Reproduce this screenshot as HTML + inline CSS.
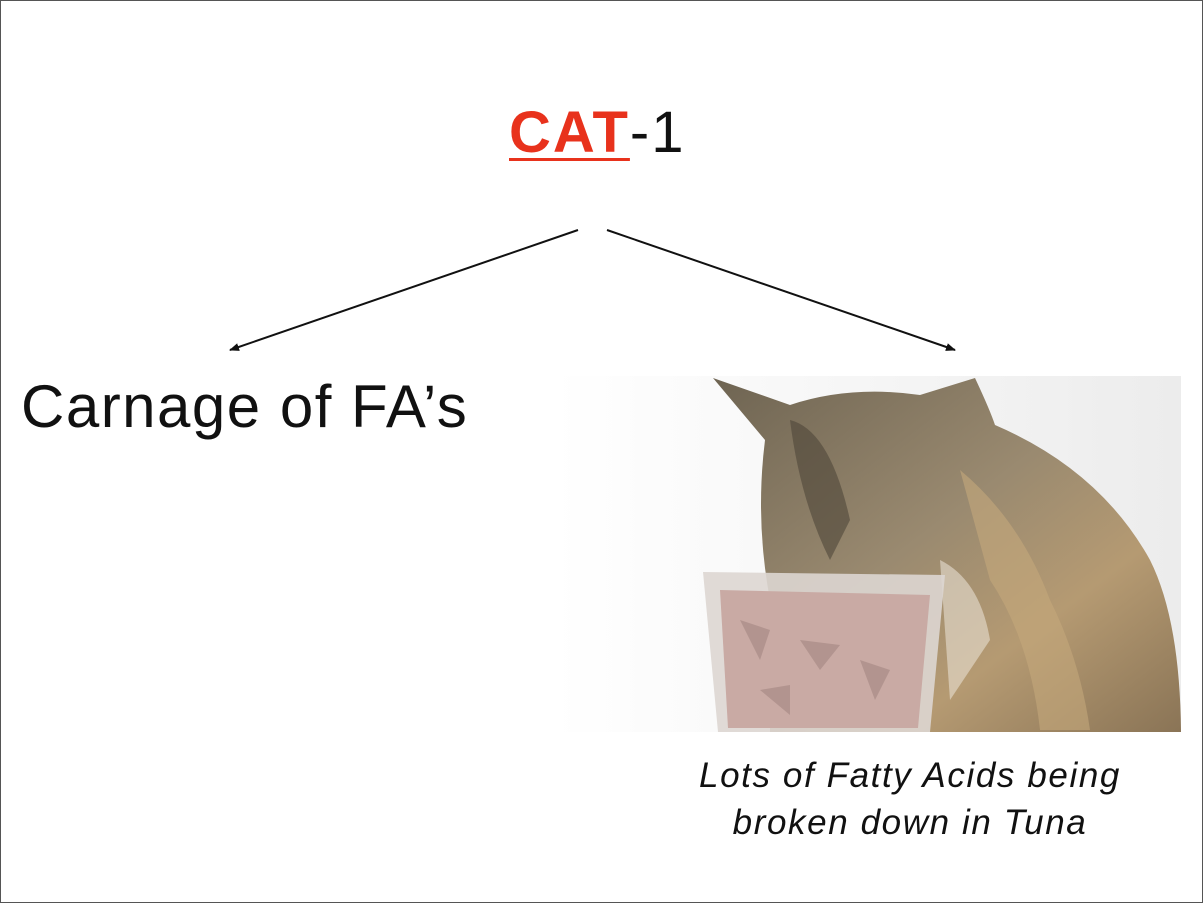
<!DOCTYPE html>
<html><head><meta charset="utf-8"><style>
html,body{margin:0;padding:0;background:#fff}
body{width:1203px;height:903px;position:relative;overflow:hidden;font-family:"Liberation Sans",sans-serif}
.frame{position:absolute;left:0;top:0;width:1201px;height:901px;border:1px solid #555}
.t{position:absolute;white-space:nowrap;color:#111}
</style></head><body>
<div class="t" style="left:509px;top:100px;font-size:58px;line-height:66px;letter-spacing:2px"><span style="color:#e8321c;font-weight:bold;text-decoration:underline;text-decoration-thickness:3px;text-underline-offset:6px">CAT</span>-1</div>
<div class="t" style="left:21px;top:371px;font-size:60px;line-height:72px;letter-spacing:1.5px">Carnage of FA’s</div>
<svg width="1203" height="903" style="position:absolute;left:0;top:0">
<defs><marker id="a" markerWidth="10" markerHeight="8" refX="9" refY="4" orient="auto" markerUnits="userSpaceOnUse"><path d="M0,0L10,4L0,8z" fill="#111"/></marker>
<linearGradient id="bg" x1="0" x2="1"><stop offset="0" stop-color="#fff"/><stop offset="1" stop-color="#ececec"/></linearGradient>
<linearGradient id="fur" x1="0" y1="0" x2="1" y2="1"><stop offset="0" stop-color="#6e6452"/><stop offset="0.45" stop-color="#9a8a70"/><stop offset="0.7" stop-color="#b59a72"/><stop offset="1" stop-color="#8a7456"/></linearGradient>
</defs>
<line x1="578" y1="230" x2="230" y2="350" stroke="#111" stroke-width="2" marker-end="url(#a)"/>
<line x1="607" y1="230" x2="955" y2="350" stroke="#111" stroke-width="2" marker-end="url(#a)"/>
<rect x="555" y="376" width="626" height="356" fill="url(#bg)"/>
<path d="M713,378 L790,405 Q850,385 920,395 L975,378 Q990,410 995,425 Q1100,470 1150,560 Q1180,620 1181,732 L770,732 L770,600 Q755,520 765,440 Z" fill="url(#fur)"/>
<path d="M790,420 Q830,430 850,520 L830,560 Q800,500 790,420Z" fill="#4f4638" opacity="0.6"/>
<path d="M960,470 Q1020,520 1050,600 Q1080,660 1090,730 L1040,730 Q1030,640 990,580Z" fill="#c4a97c" opacity="0.6"/>
<path d="M940,560 Q980,580 990,640 L950,700 Z" fill="#e7e0d2" opacity="0.6"/>
<path d="M703,572 L945,575 L930,732 L718,732 Z" fill="#ddd6d2" opacity="0.9"/>
<path d="M720,590 L930,595 L918,728 L728,728 Z" fill="#c9aaa4"/>
<path d="M740,620 l30,10 l-10,30z M800,640 l40,5 l-20,25z M760,690 l30,-5 l0,30z M860,660 l30,10 l-15,30z" fill="#a88a86" opacity="0.7"/>
</svg>
<div class="frame"></div>
<div class="t" style="left:600px;top:752px;width:620px;text-align:center;font-size:35px;line-height:47px;font-style:italic;letter-spacing:1.6px">Lots of Fatty Acids being<br>broken down in Tuna</div>
</body></html>
